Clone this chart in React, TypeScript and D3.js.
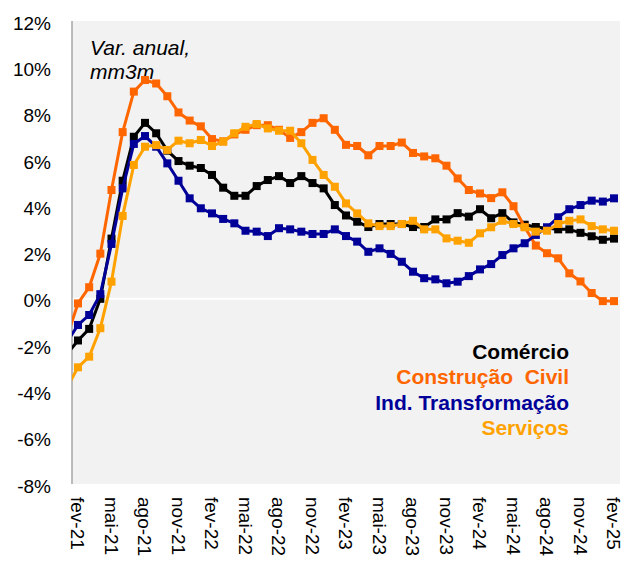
import React from "react";
import * as d3 from "d3";

// monthly, index 0 (jan-21) only feeds the clipped segment at the left edge
const months = [
  "jan-21", "fev-21", "mar-21", "abr-21", "mai-21", "jun-21", "jul-21", "ago-21", "set-21", "out-21", "nov-21", "dez-21",
  "jan-22", "fev-22", "mar-22", "abr-22", "mai-22", "jun-22", "jul-22", "ago-22", "set-22", "out-22", "nov-22", "dez-22",
  "jan-23", "fev-23", "mar-23", "abr-23", "mai-23", "jun-23", "jul-23", "ago-23", "set-23", "out-23", "nov-23", "dez-23",
  "jan-24", "fev-24", "mar-24", "abr-24", "mai-24", "jun-24", "jul-24", "ago-24", "set-24", "out-24", "nov-24", "dez-24",
  "jan-25", "fev-25",
];

const tickLabels = [
  "fev-21", "mai-21", "ago-21", "nov-21", "fev-22", "mai-22", "ago-22", "nov-22",
  "fev-23", "mai-23", "ago-23", "nov-23", "fev-24", "mai-24", "ago-24", "nov-24", "fev-25",
];

const yTicks = [-8, -6, -4, -2, 0, 2, 4, 6, 8, 10, 12];

const comercio = [
  -2.4, -1.8, -1.3, 0.0, 2.6, 5.1, 7.0, 7.6, 7.15, 6.4, 5.95, 5.75,
  5.65, 5.35, 4.8, 4.45, 4.45, 4.87, 5.13, 5.3, 5.0, 5.3, 5.0, 4.77,
  4.05, 3.6, 3.33, 3.1, 3.23, 3.23, 3.23, 3.1, 3.1, 3.43, 3.43, 3.7,
  3.55, 3.87, 3.48, 3.7, 3.3, 3.2, 3.1, 3.05, 3.0, 3.0, 2.85, 2.7,
  2.55, 2.6,
];

const construcao = [
  -1.65, -0.2, 0.5, 1.95, 4.7, 7.2, 8.95, 9.45, 9.3, 8.75, 8.05, 7.7,
  7.45, 6.9, 6.8, 7.1, 7.3, 7.5, 7.5, 7.3, 6.95, 7.2, 7.6, 7.8,
  7.3, 6.65, 6.6, 6.2, 6.6, 6.6, 6.75, 6.3, 6.15, 6.07, 5.75, 5.2,
  4.7, 4.55, 4.35, 4.6, 4.0, 3.1, 2.3, 1.97, 1.75, 1.1, 0.75, 0.25,
  -0.1, -0.1,
];

const transformacao = [
  -1.87, -1.13, -0.7, 0.2, 2.37, 4.77, 6.69, 7.03, 6.57, 5.85, 5.1, 4.34,
  3.91, 3.69, 3.45, 3.26, 2.94, 2.9, 2.71, 3.05, 3.0, 2.9, 2.8, 2.8,
  3.0, 2.71, 2.47, 2.03, 2.18, 1.94, 1.6, 1.17, 0.89, 0.84, 0.67, 0.74,
  0.98, 1.27, 1.5, 1.89, 2.18, 2.4, 2.76, 3.09, 3.52, 3.87, 4.05, 4.24,
  4.2, 4.34,
];

const servicos = [
  -3.85, -2.96, -2.5, -1.27, 0.74, 3.58, 5.78, 6.57, 6.64, 6.43, 6.83, 6.72,
  6.86, 6.6, 6.79, 7.15, 7.43, 7.55, 7.36, 7.26, 7.26, 6.72, 6.0, 5.35,
  4.84, 4.12, 3.69, 3.26, 3.14, 3.14, 3.23, 3.37, 3.0, 3.0, 2.61, 2.51,
  2.42, 2.83, 3.09, 3.37, 3.23, 3.09, 2.9, 2.94, 3.23, 3.37, 3.43, 3.14,
  3.0, 2.94,
];

const series = [
  { name: "Comércio", values: comercio, color: "#000000" },
  { name: "Construção  Civil", values: construcao, color: "#ff6600" },
  { name: "Ind. Transformação", values: transformacao, color: "#000099" },
  { name: "Serviços", values: servicos, color: "#ffa200" },
];

const W = 629;
const H = 563;
const plot = { left: 72, right: 620, top: 21, bottom: 484 };
const font = "Arial, 'Liberation Sans', sans-serif";

export default function App() {
  // fev-21 sits at index 1, fev-25 at index 49
  const x = d3.scaleLinear().domain([1, months.length - 1]).range([78, 614]);
  const y = d3.scaleLinear().domain([-8, 12]).range([plot.bottom, plot.top]);

  const line = d3
    .line<number>()
    .x((_, i) => x(i))
    .y((d) => y(d));

  const marker = 8;

  return (
    <svg
      width={W}
      height={H}
      style={{ position: "absolute", left: 0, top: 0, background: "white" }}
      fontFamily={font}
    >
      <defs>
        <clipPath id="plot-clip">
          <rect
            x={plot.left}
            y={plot.top - 6}
            width={plot.right - plot.left + 6}
            height={plot.bottom - plot.top + 6}
          />
        </clipPath>
      </defs>

      {/* plot background */}
      <rect
        x={plot.left}
        y={plot.top}
        width={plot.right - plot.left}
        height={plot.bottom - plot.top}
        fill="#f2f2f2"
      />

      {/* zero line */}
      <line
        x1={plot.left}
        x2={plot.right}
        y1={y(0)}
        y2={y(0)}
        stroke="white"
        strokeWidth={2}
      />

      {/* y axis */}
      <line
        x1={plot.left}
        x2={plot.left}
        y1={plot.top}
        y2={plot.bottom}
        stroke="#a6a6a6"
        strokeWidth={1.5}
      />
      {yTicks.map((t) => (
        <text
          key={t}
          x={51}
          y={y(t) + 2}
          dy="0.35em"
          textAnchor="end"
          fontSize={19}
          fill="#000"
        >
          {t}%
        </text>
      ))}

      {/* x labels */}
      {tickLabels.map((lab) => {
        const i = months.indexOf(lab);
        return (
          <text
            key={lab}
            transform={`translate(${x(i)},497) rotate(90)`}
            dy="0.35em"
            textAnchor="start"
            fontSize={19}
            fill="#000"
          >
            {lab}
          </text>
        );
      })}

      {/* note, under the lines */}
      <text x={90} y={55} fontSize={21} fontStyle="italic" fill="#000">
        Var. anual,
      </text>
      <text x={90} y={79} fontSize={21} fontStyle="italic" fill="#000">
        mm3m
      </text>

      {/* series */}
      <g clipPath="url(#plot-clip)">
        {series.map((s) => (
          <g key={s.name}>
            <path
              d={line(s.values) || ""}
              fill="none"
              stroke={s.color}
              strokeWidth={3}
              strokeLinejoin="round"
            />
            {s.values.map((v, i) =>
              i === 0 ? null : (
                <rect
                  key={i}
                  x={x(i) - marker / 2}
                  y={y(v) - marker / 2}
                  width={marker}
                  height={marker}
                  fill={s.color}
                />
              )
            )}
          </g>
        ))}
      </g>

      {/* legend */}
      {series.map((s, k) => (
        <text
          key={s.name}
          x={569}
          y={359 + k * 25.3}
          textAnchor="end"
          fontSize={21}
          fontWeight="bold"
          fill={s.color}
          style={{ whiteSpace: "pre" }}
        >
          {s.name}
        </text>
      ))}
    </svg>
  );
}
